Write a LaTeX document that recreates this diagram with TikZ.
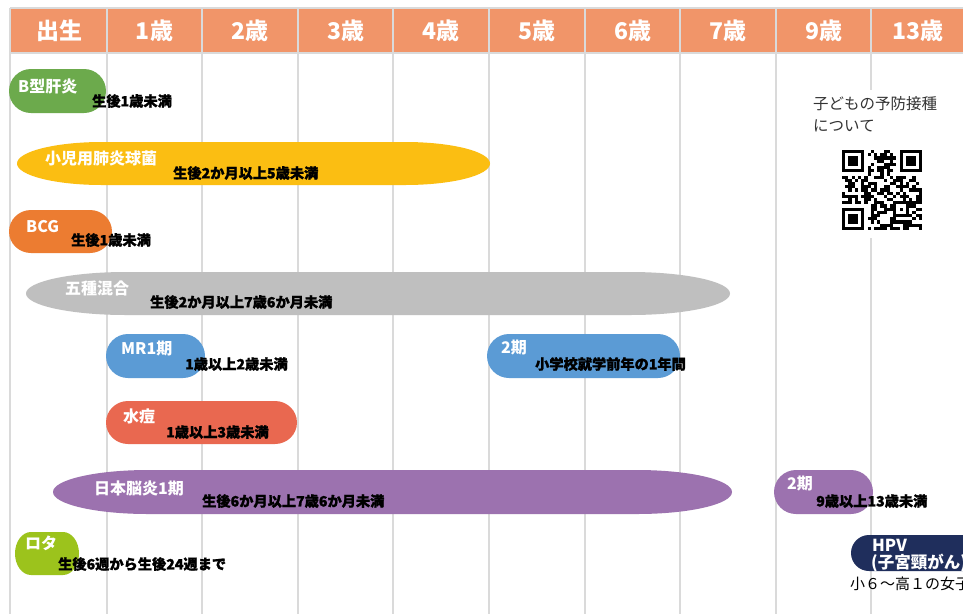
\documentclass[tikz,border=0pt]{standalone}
\usepackage{fontspec}
\setmainfont{Noto Sans CJK JP}
\newfontfamily\heavyfont{Noto Sans CJK JP}[BoldFeatures={FakeBold=1.3}]
\definecolor{hdrorange}{HTML}{F19569}
\definecolor{gridgray}{HTML}{DADADA}
\definecolor{cgreen}{HTML}{6CAA4C}
\definecolor{cyellow}{HTML}{FBBE12}
\definecolor{corange}{HTML}{EC7C31}
\definecolor{cgray}{HTML}{BFBFBF}
\definecolor{cblue}{HTML}{5B9BD5}
\definecolor{cred}{HTML}{E96850}
\definecolor{cpurple}{HTML}{9C72AF}
\definecolor{crota}{HTML}{9CC31C}
\definecolor{cnavy}{HTML}{1F2E5C}
\definecolor{qrtext}{HTML}{333333}
\newcommand\capsule[6]{% color, x1, y1, x2, y2, rx  (image coords)
  \fill[#1] ({#2+#6},{-#3}) -- ({#4-#6},{-#3})
    arc[start angle=90,end angle=-90,x radius=#6,y radius={(#5-#3)/2}]
    -- ({#2+#6},{-#5})
    arc[start angle=270,end angle=90,x radius=#6,y radius={(#5-#3)/2}] -- cycle;}
\tikzset{
  hdrtext/.style={font=\fontsize{23}{25}\selectfont\bfseries, text=white, inner sep=0pt},
  vname/.style={font=\fontsize{16}{18}\selectfont\bfseries, text=white, anchor=west, inner sep=0pt},
  vrange/.style={font=\heavyfont\fontsize{14.2}{16}\selectfont\bfseries, text=black, anchor=west, inner sep=0pt},
  gridline/.style={draw=gridgray, line width=1.4pt},
  qrlabel/.style={font=\fontsize{15.5}{17}\selectfont, text=qrtext, anchor=west, inner sep=0pt},
  hpvlabel/.style={font=\fontsize{16.5}{18}\selectfont\bfseries, text=white, anchor=west, inner sep=0pt},
}
\begin{document}
\begin{tikzpicture}[x=1pt,y=1pt]
\useasboundingbox (0,0) rectangle (963,-614);
\fill[white] (0,0) rectangle (963,-614);
% header
\fill[hdrorange] (10,-8) rectangle (970,-53);
\draw[gridline] (10,-8) -- (970,-8);
\draw[gridline] (10,-53) -- (970,-53);
\foreach \x in {10,107,202,298,393,489,585,680,776,871}{
  \draw[gridline] (\x,-8) -- (\x,-614);
}
\node[hdrtext] (h0) at (59,-31) {出生};
\node[hdrtext] (h1) at (154.5,-31) {1歳};
\node[hdrtext] (h2) at (250,-31) {2歳};
\node[hdrtext] (h3) at (345.5,-31) {3歳};
\node[hdrtext] (h4) at (441,-31) {4歳};
\node[hdrtext] (h5) at (537,-31) {5歳};
\node[hdrtext] (h6) at (632.5,-31) {6歳};
\node[hdrtext] (h7) at (728,-31) {7歳};
\node[hdrtext] (h9) at (823.5,-31) {9歳};
\node[hdrtext] (h13) at (918,-31) {13歳};
% QR area
\fill[white] (805,-90) rectangle (948,-238);
\node[qrlabel] (qrt1) at (813,-104) {子どもの予防接種};
\node[qrlabel] (qrt2) at (813,-126) {について};
\begin{scope}[shift={(842pt,-150pt)}, x=3.2pt, y=-3.2pt]
  \pgfmathsetseed{4711}
  \foreach \i in {0,...,24}{
    \foreach \j in {0,...,24}{
      \pgfmathtruncatemacro\qsk{((\i<8)&&(\j<8))||((\i>16)&&(\j<8))||((\i<8)&&(\j>16))||((\i>15)&&(\i<21)&&(\j>15)&&(\j<21))}
      \pgfmathtruncatemacro\qbit{rnd<0.56}
      \ifnum\qsk=0
        \ifnum\qbit=1
          \fill[black] (\i,\j) rectangle ++(1.02,1.02);
        \fi
      \fi
    }
  }
  \foreach \ox/\oy in {0/0,18/0,0/18}{
    \fill[black] (\ox,\oy) rectangle ++(7,7);
    \fill[white] (\ox+1,\oy+1) rectangle ++(5,5);
    \fill[black] (\ox+2,\oy+2) rectangle ++(3,3);
  }
  \fill[black] (16,16) rectangle ++(5,5);
  \fill[white] (17,17) rectangle ++(3,3);
  \fill[black] (18,18) rectangle ++(1,1);
\end{scope}
% bars
\capsule{cgreen}{9}{69}{106}{113}{22}
\capsule{cyellow}{17}{142}{490}{185}{85}
\capsule{corange}{9}{210}{112}{253}{22}
\capsule{cgray}{26}{272}{730}{315}{100}
\capsule{cblue}{106}{334}{205}{378}{22}
\capsule{cblue}{487}{334}{680}{378}{22}
\capsule{cred}{106}{401}{297}{444}{22}
\capsule{cpurple}{53}{470}{732}{514}{95}
\capsule{cpurple}{774}{470}{873}{514}{22}
\capsule{crota}{15}{532}{79}{575}{16}
\capsule{cnavy}{851}{535}{1010}{571}{18}
% labels
\node[vname] (hepb) at (18,-86) {B型肝炎};
\node[vrange] (hepbr) at (92,-101) {生後1歳未満};
\node[vname] (pcv) at (45,-158) {小児用肺炎球菌};
\node[vrange] (pcvr) at (173,-173) {生後2か月以上5歳未満};
\node[vname] (bcg) at (26,-227) {BCG};
\node[vrange] (bcgr) at (71,-240) {生後1歳未満};
\node[vname] (five) at (65,-288) {五種混合};
\node[vrange] (fiver) at (150,-302) {生後2か月以上7歳6か月未満};
\node[vname] (mr1) at (121,-349) {MR1期};
\node[vrange] (mr1r) at (185,-364) {1歳以上2歳未満};
\node[vname] (mr2) at (501,-348) {2期};
\node[vrange] (mr2r) at (535,-364) {小学校就学前年の1年間};
\node[vname] (vari) at (123,-416) {水痘};
\node[vrange] (varir) at (166,-432) {1歳以上3歳未満};
\node[vname] (je1) at (94,-488) {日本脳炎1期};
\node[vrange] (je1r) at (202,-501) {生後6か月以上7歳6か月未満};
\node[vname] (je2) at (787,-484) {2期};
\node[vrange] (je2r) at (816,-501) {9歳以上13歳未満};
\node[vname] (rota) at (25,-543) {ロタ};
\node[vrange] (rotar) at (58,-564) {生後6週から生後24週まで};
\node[hpvlabel] (hpv) at (872,-545) {HPV};
\node[hpvlabel] (hpv2) at (871,-563) {(子宮頸がん)};
\node[font=\fontsize{15}{17}\selectfont, text=black, anchor=west, inner sep=0pt] (hpvr) at (850,-584) {小６～高１の女子};
\end{tikzpicture}
\end{document}
